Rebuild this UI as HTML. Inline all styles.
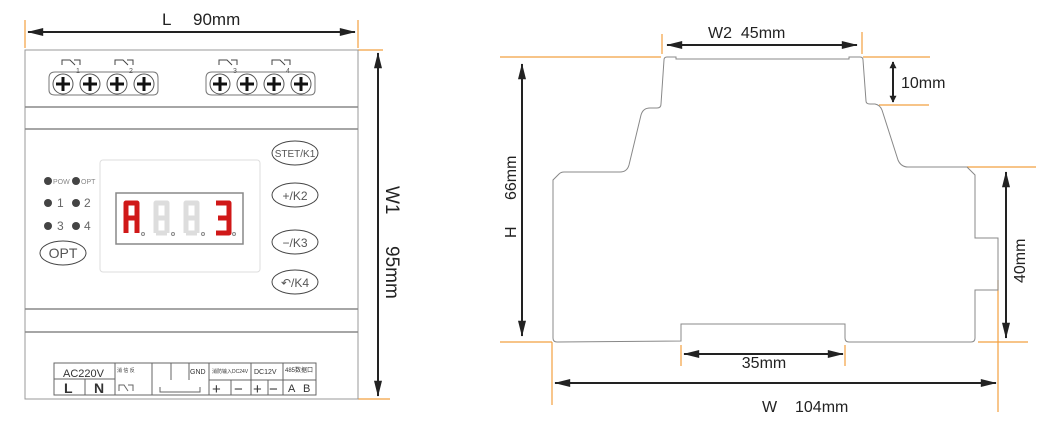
<!DOCTYPE html>
<html><head><meta charset="utf-8"><style>
html,body{margin:0;padding:0;background:#fff;}
svg{display:block;}
text{font-family:"Liberation Sans","Noto Sans CJK SC",sans-serif;}
</style></head><body>
<svg width="1042" height="425" viewBox="0 0 1042 425" xmlns="http://www.w3.org/2000/svg">
<defs>
<marker id="a" viewBox="0 0 10 10" refX="9" refY="5" markerWidth="9" markerHeight="7" orient="auto-start-reverse" markerUnits="userSpaceOnUse"><path d="M0,0L10,5L0,10z" fill="#222"/></marker>
<marker id="b" viewBox="0 0 20 10" refX="19" refY="5" markerWidth="18" markerHeight="8" orient="auto-start-reverse" markerUnits="userSpaceOnUse"><path d="M0,0L20,5L0,10z" fill="#222"/></marker>
</defs>
<g stroke="#f2a040" stroke-width="1.2" fill="none">
<line x1="25" y1="20" x2="25" y2="48"/><line x1="358" y1="20" x2="358" y2="48"/>
<line x1="358" y1="50" x2="383" y2="50"/><line x1="358" y1="399" x2="390" y2="399"/>
<line x1="500" y1="57" x2="661" y2="57"/><line x1="863" y1="57" x2="930" y2="57"/>
<line x1="662" y1="34" x2="662" y2="54"/><line x1="862" y1="32" x2="862" y2="54"/>
<line x1="879" y1="105" x2="929" y2="105"/>
<line x1="967" y1="167" x2="1036" y2="167"/><line x1="978" y1="342" x2="1028" y2="342"/>
<line x1="500" y1="342" x2="552" y2="342"/><line x1="552" y1="342" x2="552" y2="405"/>
<line x1="998" y1="280" x2="998" y2="412"/>
<line x1="681" y1="345" x2="681" y2="366"/><line x1="845" y1="345" x2="845" y2="366"/>
</g>
<!-- left device -->
<line x1="28" y1="32" x2="355" y2="32" stroke="#222" stroke-width="2" marker-start="url(#b)" marker-end="url(#b)"/>
<text x="162" y="25" font-size="17" fill="#222">L</text>
<text x="193" y="25" font-size="17" fill="#222">90mm</text>
<line x1="378" y1="53" x2="378" y2="396" stroke="#222" stroke-width="2" marker-start="url(#b)" marker-end="url(#b)"/>
<text transform="translate(386,186) rotate(90)" font-size="19" fill="#222">W1</text>
<text transform="translate(386,246) rotate(90)" font-size="19" fill="#222">95mm</text>
<g stroke="#888" fill="none" stroke-width="1">
<rect x="25" y="50" width="333" height="349" stroke="#999"/>
<line x1="25" y1="107" x2="358" y2="107" stroke-width="1.5"/>
<line x1="25" y1="129" x2="358" y2="129" stroke-width="1.5"/>
<line x1="25" y1="309" x2="358" y2="309" stroke-width="1.5"/>
<line x1="25" y1="332" x2="358" y2="332" stroke-width="1.5"/>
<rect x="100" y="160" width="160" height="112" rx="3" stroke="#ddd"/>
</g>
<!-- terminals -->
<g id="tg">
<path d="M49,78 Q49,72 55,72 L153,72 Q158,72 158,78 L158,90 Q158,95 153,95 L55,95 Q49,95 49,90z" fill="#fff" stroke="#777"/>
<g stroke="#555" fill="#fff"><circle cx="63" cy="84" r="10"/><circle cx="90" cy="84" r="10"/><circle cx="117" cy="84" r="10"/><circle cx="144" cy="84" r="10"/></g>
<g stroke="#111" stroke-width="3"><path d="M56,84h14M63,77v14M83,84h14M90,77v14M110,84h14M117,77v14M137,84h14M144,77v14"/></g>
<g stroke="#444" fill="none"><path d="M62,65v-5h8l5,5M80,65v-5h-6"/><path d="M115,65v-5h8l5,5M133,65v-5h-6"/></g>
</g>
<use href="#tg" x="157"/>
<text x="76" y="73" font-size="7" fill="#555">1</text><text x="129" y="73" font-size="7" fill="#555">2</text>
<text x="233" y="73" font-size="7" fill="#555">3</text><text x="286" y="73" font-size="7" fill="#555">4</text>
<!-- LEDs -->
<g fill="#444"><circle cx="48" cy="181" r="4"/><circle cx="76" cy="181" r="4"/><circle cx="48" cy="203" r="4"/><circle cx="76" cy="203" r="4"/><circle cx="48" cy="226" r="4"/><circle cx="76" cy="226" r="4"/></g>
<text x="53" y="184" font-size="7" fill="#888">POW</text><text x="81" y="184" font-size="7" fill="#888">OPT</text>
<g font-size="12" fill="#666"><text x="57" y="207">1</text><text x="84" y="207">2</text><text x="57" y="230">3</text><text x="84" y="230">4</text></g>
<ellipse cx="63" cy="253" rx="23" ry="12" fill="none" stroke="#444"/><text x="63" y="258" font-size="14" fill="#555" text-anchor="middle">OPT</text>
<!-- display -->
<rect x="116" y="193" width="127" height="51" fill="#fff" stroke="#888" stroke-width="1.5"/>
<g stroke-width="5" fill="none" stroke-linejoin="round">
<path d="M126,233V203h11v30M126,218h11" stroke="#d01818"/>
<path d="M156,233V203h11v30M156,218h11M156,233h11" stroke="#ddd"/>
<path d="M186,233V203h11v30M186,218h11M186,233h11" stroke="#ddd"/>
<path d="M216,203h13v30h-13M218,218h11" stroke="#d01818"/>
</g>
<g fill="none" stroke="#888"><circle cx="143" cy="234" r="1.5"/><circle cx="173" cy="234" r="1.5"/><circle cx="203" cy="234" r="1.5"/><circle cx="234" cy="234" r="1.5"/></g>
<!-- buttons -->
<g fill="none" stroke="#444"><ellipse cx="295" cy="153" rx="23" ry="12"/><ellipse cx="295" cy="195" rx="23" ry="12"/><ellipse cx="295" cy="242" rx="23" ry="12"/><ellipse cx="295" cy="282" rx="23" ry="12"/></g>
<g font-size="12" fill="#555" text-anchor="middle"><text x="295" y="157" font-size="10">STET/K1</text><text x="295" y="200">+/K2</text><text x="295" y="247">−/K3</text><text x="295" y="287">↶/K4</text></g>
<!-- bottom table -->
<g stroke="#666" fill="none" stroke-width="1">
<rect x="54" y="363" width="262" height="32"/>
<line x1="54" y1="379" x2="115" y2="379"/><line x1="85" y1="379" x2="85" y2="395"/>
<line x1="115" y1="363" x2="115" y2="395"/><line x1="152" y1="363" x2="152" y2="395"/>
<line x1="171" y1="363" x2="171" y2="380"/><line x1="189" y1="363" x2="189" y2="380"/><line x1="209" y1="363" x2="209" y2="395"/>
<line x1="209" y1="380" x2="316" y2="380"/><line x1="231" y1="380" x2="231" y2="395"/>
<line x1="251" y1="363" x2="251" y2="395"/><line x1="268" y1="380" x2="268" y2="395"/><line x1="283" y1="363" x2="283" y2="395"/>
<path d="M119,391v-6h5l4,6M133,391v-6h-5M160,387v5h40v-5"/>
</g>
<g fill="#333"><text x="63" y="377" font-size="11">AC220V</text><text x="64" y="393" font-size="14" font-weight="bold">L</text><text x="94" y="393" font-size="14" font-weight="bold">N</text>
<text x="117" y="372" font-size="5">消 信 反</text><text x="190" y="374" font-size="7">GND</text><text x="212" y="373" font-size="5">消防输入DC24V</text><text x="254" y="374" font-size="7">DC12V</text><text x="285" y="372" font-size="6">485数据口</text>
<text x="212" y="394" font-size="15">+</text><text x="234" y="394" font-size="15">−</text><text x="253" y="394" font-size="15">+</text><text x="269" y="394" font-size="15">−</text>
<text x="288" y="392" font-size="11">A</text><text x="303" y="392" font-size="11">B</text></g>
<!-- right side outline -->
<path d="M664,60 Q664,57 667,57 L676,57 L676,59 L849,59 L849,57 L860,57 Q863,57 863,60 L866,101 Q866,104 870,104 L875,104 Q880,105 882,110 L898,160 Q901,167 908,167 L967,167 L975,175 L975,238 L998,238 L998,290 L975,290 L975,338 Q975,342 971,342 L849,342 Q845,342 845,338 L845,324 L681,324 L681,341 L557,342 Q553,342 553,338 L553,180 L559,174 Q561,172 564,172 L620,172 Q627,172 629,165 L641,115 Q643,108 650,108 L657,108 Q661,108 661,104 z" fill="none" stroke="#888" stroke-width="1"/>
<!-- right dims -->
<g stroke="#222" stroke-width="2">
<line x1="667" y1="45" x2="857" y2="45" marker-start="url(#b)" marker-end="url(#b)"/>
<line x1="522" y1="64" x2="522" y2="336" marker-start="url(#b)" marker-end="url(#b)"/>
<line x1="893" y1="62" x2="893" y2="102" marker-start="url(#a)" marker-end="url(#a)"/>
<line x1="1006" y1="172" x2="1006" y2="338" marker-start="url(#b)" marker-end="url(#b)"/>
<line x1="684" y1="354" x2="843" y2="354" marker-start="url(#b)" marker-end="url(#b)"/>
<line x1="555" y1="383" x2="996" y2="383" marker-start="url(#b)" marker-end="url(#b)"/>
</g>
<g fill="#222" font-size="16">
<text x="708" y="38">W2&#160;&#160;45mm</text>
<text x="901" y="88">10mm</text>
<text x="764" y="368" text-anchor="middle">35mm</text>
<text x="762" y="412">W</text><text x="795" y="412">104mm</text>
<text transform="translate(516,238) rotate(-90)">H</text>
<text transform="translate(516,200) rotate(-90)">66mm</text>
<text transform="translate(1025,283) rotate(-90)">40mm</text>
</g>
</svg>
</body></html>
